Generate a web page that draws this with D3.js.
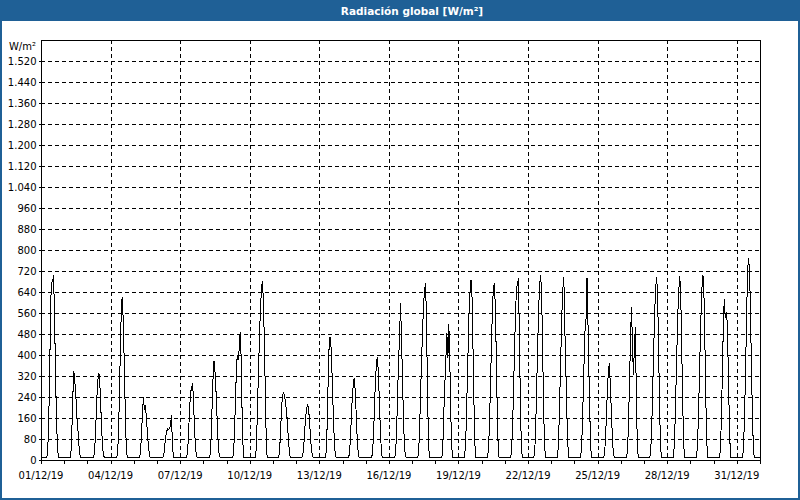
<!DOCTYPE html>
<html>
<head>
<meta charset="utf-8">
<script src="https://cdn.jsdelivr.net/npm/d3@7"></script>
<style>
  html, body { margin: 0; padding: 0; background: #ffffff; }
  svg { display: block; }
  text { font-family: "DejaVu Sans", Verdana, sans-serif; }
</style>
</head>
<body>
<svg id="chart" width="800" height="500"></svg>
<script>
// ---------------- DATA ----------------
const title = "Radiación global [W/m²]";
const unitLabel = "W/m²";
const monthStart = "2019-12-01T00:00:00Z";
const monthEnd = "2020-01-01T00:00:00Z";
// hours of day for which values are listed (night outside = nightLevel)
const dayHours = [6, 7, 8, 9, 10, 11, 12, 13, 14, 15, 16, 17, 18];
const nightLevel = 9;
// hourly global radiation (W/m²) per day of December 2019, hours 6..18
const radiation = [
  [9, 40, 150, 330, 600, 675, 680, 705, 550, 340, 160, 50, 9],   // 01
  [9, 30, 120, 250, 340, 300, 250, 170, 130, 70, 25, 10, 9],     // 02
  [9, 20, 70, 160, 250, 310, 330, 280, 190, 100, 40, 15, 9],     // 03
  [9, 20, 80, 220, 400, 560, 622, 540, 390, 220, 80, 20, 9],     // 04
  [9, 30, 100, 180, 241, 190, 210, 165, 110, 60, 25, 10, 9],     // 05
  [9, 15, 50, 90, 108, 118, 115, 120, 130, 170, 60, 12, 9],      // 06
  [9, 15, 50, 130, 210, 260, 280, 292, 200, 110, 40, 12, 9],     // 07
  [9, 20, 80, 200, 310, 377, 340, 270, 180, 90, 30, 12, 9],      // 08
  [9, 20, 80, 200, 320, 400, 380, 420, 486, 400, 200, 60, 9],    // 09
  [9, 60, 200, 330, 460, 570, 640, 682, 620, 470, 280, 90, 9],   // 10
  [9, 40, 120, 200, 250, 255, 250, 215, 190, 140, 80, 30, 9],    // 11
  [9, 20, 60, 120, 170, 200, 212, 190, 140, 80, 35, 12, 9],      // 12
  [9, 30, 120, 280, 420, 470, 438, 350, 230, 120, 40, 12, 9],    // 13
  [9, 20, 70, 150, 230, 280, 311, 270, 190, 100, 40, 12, 9],     // 14
  [9, 25, 90, 190, 300, 360, 394, 340, 240, 130, 50, 12, 9],     // 15
  [9, 30, 110, 250, 380, 464, 597, 470, 320, 170, 60, 15, 9],    // 16
  [9, 50, 150, 280, 400, 510, 600, 650, 673, 500, 260, 60, 9],   // 17
  [9, 15, 80, 200, 300, 390, 482, 387, 517, 380, 180, 50, 9],    // 18
  [9, 40, 130, 280, 430, 570, 640, 686, 620, 430, 220, 60, 9],   // 19
  [9, 40, 130, 270, 420, 560, 648, 673, 600, 420, 210, 60, 9],   // 20
  [9, 40, 130, 270, 420, 560, 650, 670, 692, 480, 230, 60, 9],   // 21
  [9, 40, 140, 290, 440, 580, 667, 705, 640, 440, 220, 60, 9],   // 22
  [9, 40, 130, 270, 420, 560, 650, 698, 508, 360, 200, 70, 9],   // 23
  [9, 30, 110, 240, 380, 500, 540, 692, 520, 330, 160, 40, 9],   // 24
  [9, 20, 70, 160, 260, 330, 368, 300, 200, 110, 40, 12, 9],     // 25
  [9, 40, 150, 300, 460, 584, 450, 324, 425, 508, 260, 70, 9],   // 26
  [9, 40, 130, 270, 420, 560, 654, 696, 640, 440, 220, 60, 9],   // 27
  [9, 40, 130, 270, 420, 560, 650, 700, 620, 430, 220, 60, 9],   // 28
  [9, 40, 130, 270, 420, 560, 660, 705, 630, 440, 220, 60, 9],   // 29
  [9, 40, 150, 320, 500, 613, 540, 565, 527, 380, 200, 60, 9],   // 30
  [9, 50, 170, 330, 520, 700, 771, 730, 600, 380, 200, 60, 9]    // 31
];
const yTicks = [0, 80, 160, 240, 320, 400, 480, 560, 640, 720, 800, 880, 960,
                1040, 1120, 1200, 1280, 1360, 1440, 1520];
const yMax = 1600;
const xTickDates = ["2019-12-01", "2019-12-04", "2019-12-07", "2019-12-10", "2019-12-13",
  "2019-12-16", "2019-12-19", "2019-12-22", "2019-12-25", "2019-12-28", "2019-12-31"];
const xTickLabels = ["01/12/19", "04/12/19", "07/12/19", "10/12/19", "13/12/19",
  "16/12/19", "19/12/19", "22/12/19", "25/12/19", "28/12/19", "31/12/19"];

// ---------------- LAYOUT ----------------
const W = 800, H = 500;
const plot = { left: 41, right: 760, top: 40, bottom: 460 };
const blue = "#1f6096";

const svg = d3.select("#chart");

// background + outer border
svg.append("rect").attr("x", 0).attr("y", 0).attr("width", W).attr("height", H)
  .attr("fill", "#ffffff");
svg.append("rect").attr("x", 1).attr("y", 1).attr("width", W - 2).attr("height", H - 2)
  .attr("fill", "none").attr("stroke", blue).attr("stroke-width", 2);

// title bar
svg.append("rect").attr("x", 0).attr("y", 0).attr("width", W).attr("height", 21)
  .attr("fill", blue);
svg.append("text").attr("x", 412).attr("y", 14.5).attr("text-anchor", "middle")
  .attr("fill", "#ffffff").attr("font-weight", "bold").attr("font-size", "10.5px")
  .text(title);

// scales
const x = d3.scaleUtc()
  .domain([new Date(monthStart), new Date(monthEnd)])
  .range([plot.left, plot.right]);
const y = d3.scaleLinear().domain([0, yMax]).range([plot.bottom, plot.top]);

const fmtLocale = d3.formatLocale({ decimal: ",", thousands: ".", grouping: [3], currency: ["", ""] });
const yFmt = fmtLocale.format(",d");

// horizontal grid
const grid = svg.append("g").attr("shape-rendering", "crispEdges");
grid.selectAll("line.h").data(yTicks.filter(d => d > 0)).join("line")
  .attr("x1", plot.left).attr("x2", plot.right)
  .attr("y1", d => Math.round(y(d)) + 0.5).attr("y2", d => Math.round(y(d)) + 0.5)
  .attr("stroke", "#000").attr("stroke-width", 1).attr("stroke-dasharray", "4,3");

// vertical grid at labelled dates
const xTickTimes = xTickDates.map(s => new Date(s + "T00:00:00Z"));
grid.selectAll("line.v").data(xTickTimes.slice(1)).join("line")
  .attr("x1", d => Math.round(x(d)) + 0.5).attr("x2", d => Math.round(x(d)) + 0.5)
  .attr("y1", plot.top).attr("y2", plot.bottom)
  .attr("stroke", "#000").attr("stroke-width", 1).attr("stroke-dasharray", "4,3");

// y axis labels
const yAxis = d3.axisLeft(y).tickValues(yTicks).tickSize(3).tickPadding(2).tickFormat(yFmt);
const gy = svg.append("g").attr("transform", `translate(${plot.left + 0.5},0)`).call(yAxis);
gy.select(".domain").remove();
gy.selectAll("text").attr("font-size", "10px").attr("fill", "#000")
  .attr("font-family", "DejaVu Sans, Verdana, sans-serif");
gy.selectAll("line").attr("stroke", "#000").attr("shape-rendering", "crispEdges");

svg.append("text").attr("x", 36).attr("y", 50).attr("text-anchor", "end")
  .attr("font-size", "10px").attr("fill", "#000").text(unitLabel);

// x axis: daily minor ticks, labels every 3 days
const xAxis = d3.axisBottom(x)
  .ticks(d3.utcDay.every(1))
  .tickSize(3)
  .tickFormat(() => "");
const gx = svg.append("g").attr("transform", `translate(0,${plot.bottom + 0.5})`).call(xAxis);
gx.select(".domain").remove();
gx.selectAll("line").attr("stroke", "#000").attr("shape-rendering", "crispEdges");

svg.append("g").selectAll("text").data(xTickTimes).join("text")
  .attr("x", d => x(d)).attr("y", 479).attr("text-anchor", "middle")
  .attr("font-size", "10px").attr("fill", "#000")
  .text((d, i) => xTickLabels[i]);

// series points
const points = [{ t: new Date(monthStart), v: nightLevel }];
radiation.forEach((vals, di) => {
  const base = d3.utcDay.offset(new Date(monthStart), di);
  vals.forEach((v, hi) => {
    points.push({ t: d3.utcHour.offset(base, dayHours[hi]), v: v });
  });
});
points.push({ t: new Date(monthEnd), v: nightLevel });

const line = d3.line().x(d => x(d.t)).y(d => y(d.v));
svg.append("path").datum(points)
  .attr("d", line)
  .attr("fill", "none").attr("stroke", "#000").attr("stroke-width", 1)
  .attr("shape-rendering", "crispEdges");

// plot frame
svg.append("rect")
  .attr("x", plot.left + 0.5).attr("y", plot.top + 0.5)
  .attr("width", plot.right - plot.left).attr("height", plot.bottom - plot.top)
  .attr("fill", "none").attr("stroke", "#000").attr("stroke-width", 1)
  .attr("shape-rendering", "crispEdges");
</script>
</body>
</html>
